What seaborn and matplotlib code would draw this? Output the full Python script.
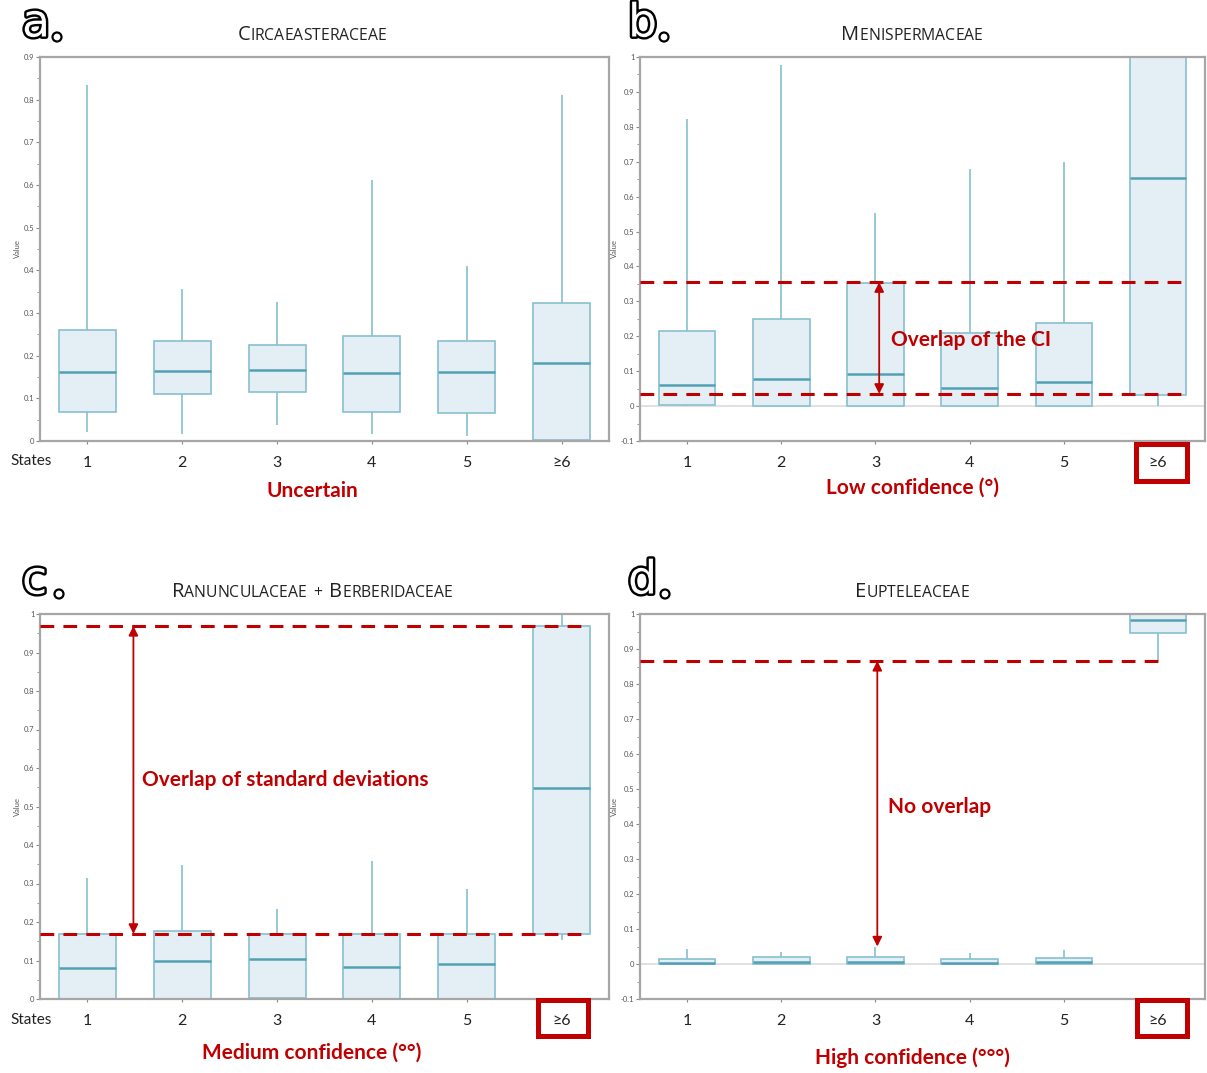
import numpy as np
import pandas as pd
import matplotlib
matplotlib.use("Agg")
import matplotlib.pyplot as plt
import seaborn as sns
from matplotlib.patches import Rectangle, Ellipse
from matplotlib.offsetbox import TextArea, HPacker, AnchoredOffsetbox
import matplotlib.patheffects as pe

# ---------------- data ----------------
states = ["1", "2", "3", "4", "5", "≥6"]

# panel a: Circaeasteraceae
a_low  = [0.021, 0.016, 0.037, 0.016, 0.012, 0.000]
a_q1   = [0.068, 0.110, 0.115, 0.068, 0.066, 0.002]
a_med  = [0.162, 0.164, 0.166, 0.159, 0.162, 0.183]
a_q3   = [0.260, 0.234, 0.225, 0.246, 0.234, 0.323]
a_high = [0.834, 0.356, 0.326, 0.612, 0.410, 0.811]

# panel b: Menispermaceae
b_low  = [0.000, 0.000, 0.000, 0.000, 0.000, 0.000]
b_q1   = [0.003, 0.001, 0.001, 0.001, 0.001, 0.032]
b_med  = [0.060, 0.077, 0.092, 0.052, 0.069, 0.653]
b_q3   = [0.215, 0.249, 0.352, 0.209, 0.238, 1.000]
b_high = [0.822, 0.977, 0.553, 0.679, 0.699, 1.000]

# panel c: Ranunculaceae + Berberidaceae
c_low  = [0.000, 0.000, 0.000, 0.000, 0.000, 0.153]
c_q1   = [0.000, 0.000, 0.002, 0.000, 0.000, 0.169]
c_med  = [0.081, 0.099, 0.104, 0.083, 0.091, 0.548]
c_q3   = [0.169, 0.177, 0.169, 0.169, 0.169, 0.969]
c_high = [0.314, 0.348, 0.234, 0.358, 0.286, 1.000]

# panel d: Eupteleaceae
d_low  = [0.000, 0.000, 0.000, 0.000, 0.000, 0.866]
d_q1   = [0.000, 0.000, 0.000, 0.000, 0.000, 0.946]
d_med  = [0.003, 0.006, 0.006, 0.003, 0.006, 0.983]
d_q3   = [0.014, 0.020, 0.020, 0.014, 0.017, 1.000]
d_high = [0.043, 0.034, 0.049, 0.031, 0.040, 1.000]

titles = ["Circaeasteraceae", "Menispermaceae",
          "Ranunculaceae + Berberidaceae", "Eupteleaceae"]
letters = ["a", "b", "c", "d"]
conf_labels = ["Uncertain", "Low confidence (°)",
               "Medium confidence (°°)", "High confidence (°°°)"]
ylims = [(0, 0.9), (-0.1, 1.0), (0, 1.0), (-0.1, 1.0)]

# reference lines / annotations
b_ci = [0.355, 0.035]
c_sd = [0.969, 0.169]
d_no = [0.866, 0.05]

# ---------------- style ----------------
sns.set_theme(style="white")
plt.rcParams["font.family"] = ["Lato", "DejaVu Sans"]

W, H = 1207, 1073
fig = plt.figure(figsize=(W / 100, H / 100), dpi=100)

RED = "#c00000"
BOX_FACE = "#e3eff4"
BOX_EDGE = "#88c0d0"
MED = "#52a0b4"
SPINE = "#a6a6a6"


def fr(x0, y0, x1, y1):
    return [x0 / W, 1 - y1 / H, (x1 - x0) / W, (y1 - y0) / H]


rects = [fr(40, 57, 609, 441), fr(640, 57, 1205, 441),
         fr(40, 614, 609, 999), fr(640, 614, 1205, 999)]

all_stats = [
    (a_low, a_q1, a_med, a_q3, a_high),
    (b_low, b_q1, b_med, b_q3, b_high),
    (c_low, c_q1, c_med, c_q3, c_high),
    (d_low, d_q1, d_med, d_q3, d_high),
]

axes = []
for i in range(4):
    ax = fig.add_axes(rects[i])
    axes.append(ax)
    lo, q1, md, q3, hi = all_stats[i]
    rows = []
    for k, s in enumerate(states):
        for v in (lo[k], q1[k], md[k], q3[k], hi[k]):
            rows.append({"State": s, "Value": v})
    df = pd.DataFrame(rows)
    if ylims[i][0] < 0:
        ax.axhline(0, color="#dcdcdc", lw=1.2, zorder=0)
    sns.boxplot(data=df, x="State", y="Value", order=states, ax=ax,
                whis=(0, 100), width=0.6, color=BOX_FACE, saturation=1,
                linecolor=BOX_EDGE, linewidth=1.2, showcaps=False,
                showfliers=False,
                medianprops={"color": MED, "linewidth": 1.8})
    ax.set_xlim(-0.5, 5.5)
    ax.set_ylim(*ylims[i])
    lo_y, hi_y = ylims[i]
    major = np.round(np.arange(lo_y, hi_y + 0.001, 0.1), 2)
    ax.set_yticks(major)
    ax.set_yticks(np.round(np.arange(lo_y + 0.05, hi_y, 0.1), 3), minor=True)
    ax.set_yticklabels([("%g" % t) for t in major])
    ax.tick_params(axis="y", which="major", length=3, width=0.8, color="#888888",
                   labelsize=5.5, labelcolor="#555555", pad=1, left=True)
    ax.tick_params(axis="y", which="minor", length=2, width=0.6, color="#888888", left=True)
    ax.tick_params(axis="x", length=2.5, width=0.8, color="#888888",
                   labelsize=11.5, labelcolor="#222222", pad=8, bottom=True)
    ax.set_xlabel("")
    ax.set_ylabel("Value", fontsize=5.5, color="#555555", labelpad=2)
    for sp in ax.spines.values():
        sp.set_color(SPINE)
        sp.set_linewidth(1.6)
        sp.set_visible(True)

# dashed lines, arrows and annotation texts
dash = dict(color=RED, lw=2.2, linestyle=(0, (4.5, 3)), zorder=5)
arrow = dict(arrowstyle="<|-|>", color=RED, lw=1.3, mutation_scale=14,
             shrinkA=0, shrinkB=0)
ANN_FS = 15

ax = axes[1]
for y in b_ci:
    ax.hlines(y, -0.5, 5.32, **dash)
ax.annotate("", xy=(2.04, b_ci[1]), xytext=(2.04, b_ci[0]), arrowprops=arrow, zorder=6)
ax.text(2.17, 0.19, "Overlap of the CI", color=RED, fontsize=ANN_FS,
        fontweight="bold", va="center", ha="left", zorder=7)

ax = axes[2]
for y in c_sd:
    ax.hlines(y, -0.5, 5.3, **dash)
ax.annotate("", xy=(0.485, c_sd[1]), xytext=(0.485, c_sd[0]), arrowprops=arrow, zorder=6)
ax.text(0.58, 0.569, "Overlap of standard deviations", color=RED, fontsize=ANN_FS,
        fontweight="bold", va="center", ha="left", zorder=7)

ax = axes[3]
ax.hlines(d_no[0], -0.5, 5.02, **dash)
ax.annotate("", xy=(2.02, d_no[1]), xytext=(2.02, d_no[0]), arrowprops=arrow, zorder=6)
ax.text(2.13, 0.449, "No overlap", color=RED, fontsize=ANN_FS,
        fontweight="bold", va="center", ha="left", zorder=7)


# small-caps titles
def small_caps(ax, text, xpx, ypx, big=14.5, small=11.3):
    words = []
    fam = ["Open Sans", "DejaVu Sans"]
    for word in text.split(" "):
        parts = []
        for ch in word:
            if ch.isupper():
                parts.append(TextArea(ch, textprops=dict(fontsize=big, color="#222222", family=fam)))
            else:
                parts.append(TextArea(ch.upper(), textprops=dict(fontsize=small, color="#222222", family=fam)))
        words.append(HPacker(children=parts, align="baseline", pad=0, sep=0))
    box = HPacker(children=words, align="baseline", pad=0, sep=5)
    anch = AnchoredOffsetbox(loc="center", child=box, pad=0, frameon=False,
                             bbox_to_anchor=(xpx / W, 1 - ypx / H),
                             bbox_transform=fig.transFigure, borderpad=0)
    ax.add_artist(anch)


title_pos = [(312, 35), (912, 35), (312, 592), (912, 592)]
letter_pos = [(22, 24), (628, 24), (22, 581), (628, 581)]
dot_pos = [(57, 37), (664, 37), (59, 594), (665, 594)]
conf_pos = [(312, 491), (912, 488), (312, 1053), (912, 1058)]
for i in range(4):
    small_caps(axes[i], titles[i], *title_pos[i])
    fig.text(letter_pos[i][0] / W, 1 - letter_pos[i][1] / H, letters[i],
             fontsize=33, color="white", ha="left", va="center",
             family=["DejaVu Sans"],
             path_effects=[pe.withStroke(linewidth=3.5, foreground="black")])
    fig.patches.append(Ellipse((dot_pos[i][0] / W, 1 - dot_pos[i][1] / H),
                               9 / W, 9 / H, transform=fig.transFigure,
                               fc="white", ec="black", lw=1.6))
    fig.text(conf_pos[i][0] / W, 1 - conf_pos[i][1] / H, conf_labels[i],
             fontsize=ANN_FS, fontweight="bold", color=RED, ha="center", va="center")

# "States" labels
for ypx in (461, 1020):
    fig.text(10 / W, 1 - ypx / H, "States", fontsize=11, color="#222222",
             ha="left", va="center")

# red boxes around ≥6
for (x0, y0, x1, y1) in [(1135.5, 443.5, 1186.5, 480.5),
                         (537.5, 999.5, 587.5, 1035.5),
                         (1136.5, 999.5, 1186.5, 1035.5)]:
    fig.patches.append(Rectangle((x0 / W, 1 - y1 / H), (x1 - x0) / W, (y1 - y0) / H,
                                 transform=fig.transFigure, fill=False,
                                 ec=RED, lw=3.6, zorder=10))

fig.savefig("out.png", dpi=100)
